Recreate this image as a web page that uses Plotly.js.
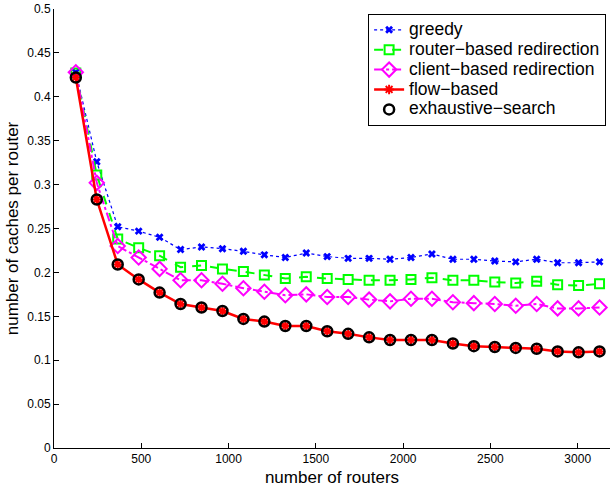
<!DOCTYPE html>
<html>
<head>
<meta charset="utf-8">
<script src="https://cdn.plot.ly/plotly-3.0.1.min.js"></script>
<style>html,body{margin:0;padding:0;background:#fff;overflow:hidden;}#chart{width:610px;height:487px;}</style>
</head>
<body>
<div id="chart"></div>
<script>
const routers = [125,245,365,485,605,725,845,965,1085,1205,1325,1445,1565,1685,1805,1925,2045,2165,2285,2405,2525,2645,2765,2885,3005,3125];
const greedy = [0.428,0.326,0.252,0.247,0.240,0.226,0.229,0.227,0.224,0.220,0.217,0.222,0.218,0.216,0.216,0.215,0.217,0.221,0.215,0.215,0.213,0.212,0.215,0.211,0.211,0.212];
const routerBased = [0.427,0.311,0.238,0.228,0.219,0.206,0.208,0.204,0.201,0.197,0.193,0.195,0.193,0.192,0.191,0.191,0.192,0.194,0.191,0.191,0.189,0.188,0.190,0.186,0.185,0.187];
const clientBased = [0.428,0.302,0.230,0.217,0.204,0.191,0.191,0.187,0.182,0.178,0.174,0.175,0.172,0.172,0.169,0.167,0.170,0.170,0.166,0.165,0.164,0.162,0.164,0.159,0.159,0.160];
const flowBased = [0.422,0.283,0.209,0.192,0.177,0.164,0.160,0.156,0.147,0.144,0.139,0.139,0.133,0.130,0.126,0.123,0.123,0.123,0.119,0.116,0.115,0.114,0.113,0.110,0.109,0.110];
const exhaustive = [0.422,0.283,0.209,0.192,0.177,0.164,0.160,0.156,0.147,0.144,0.139,0.139,0.133,0.130,0.126,0.123,0.123,0.123,0.119,0.116,0.115,0.114,0.113,0.110,0.109,0.110];
const names = ['greedy','router\u2212based redirection','client\u2212based redirection','flow\u2212based','exhaustive\u2212search'];

function big(s) { return '<span style="font-size:17.5px">' + s + '</span>'; }

const traces = [
  {x: routers, y: greedy, name: big(names[0]), mode: 'lines+markers',
   line: {color: '#0000ff', width: 1.2, dash: 'dot'},
   marker: {symbol: 'x', size: 7, color: '#0000ff'}},
  {x: routers, y: routerBased, name: big(names[1]), mode: 'lines+markers',
   line: {color: '#00ff00', width: 2, dash: 'dash'},
   marker: {symbol: 'square-open', size: 9, color: '#00ff00', line: {width: 2, color: '#00ff00'}}},
  {x: routers, y: clientBased, name: big(names[2]), mode: 'lines+markers',
   line: {color: '#ff00ff', width: 2, dash: 'dashdot'},
   marker: {symbol: 'diamond-open', size: 11, color: '#ff00ff', line: {width: 2, color: '#ff00ff'}}},
  {x: routers, y: flowBased, name: big(names[3]), mode: 'lines+markers',
   line: {color: '#ff0000', width: 2.5},
   marker: {symbol: 'asterisk-open', size: 8, color: '#ff0000', line: {width: 2, color: '#ff0000'}}},
  {x: routers, y: exhaustive, name: big(names[4]), mode: 'lines+markers',
   line: {color: '#000000', width: 0.01, dash: 'dot'},
   marker: {symbol: 'circle-open', size: 10, color: '#000000', line: {width: 2.5, color: '#000000'}}}
];

const layout = {
  width: 610, height: 487,
  margin: {l: 54, r: 0, t: 9, b: 39},
  paper_bgcolor: '#ffffff', plot_bgcolor: '#ffffff',
  font: {family: 'Liberation Sans, Arial, sans-serif', color: '#000000'},
  showlegend: true,
  legend: {x: 0.993, y: 0.989, xanchor: 'right', yanchor: 'top',
    bordercolor: '#000000', borderwidth: 1, bgcolor: '#ffffff',
    font: {size: 13, family: 'Liberation Sans, Arial, sans-serif'}, tracegroupgap: 0, itemwidth: 30},
  xaxis: {range: [0, 3185], tickmode: 'linear', tick0: 0, dtick: 500,
    ticks: 'inside', ticklen: 5, tickcolor: '#000', showline: true, linecolor: '#000', linewidth: 1,
    showgrid: false, zeroline: false, mirror: false,
    tickfont: {size: 12},
    title: {text: 'number of routers', font: {size: 17}, standoff: 6}},
  yaxis: {range: [0, 0.5], tickmode: 'linear', tick0: 0, dtick: 0.05,
    ticks: 'inside', ticklen: 5, tickcolor: '#000', showline: true, linecolor: '#000', linewidth: 1,
    showgrid: false, zeroline: false, mirror: false,
    tickfont: {size: 12},
    title: {text: 'number of caches per router', font: {size: 17}, standoff: 4}}
};

Plotly.newPlot('chart', traces, layout, {displayModeBar: false, staticPlot: true});
</script>
</body>
</html>
